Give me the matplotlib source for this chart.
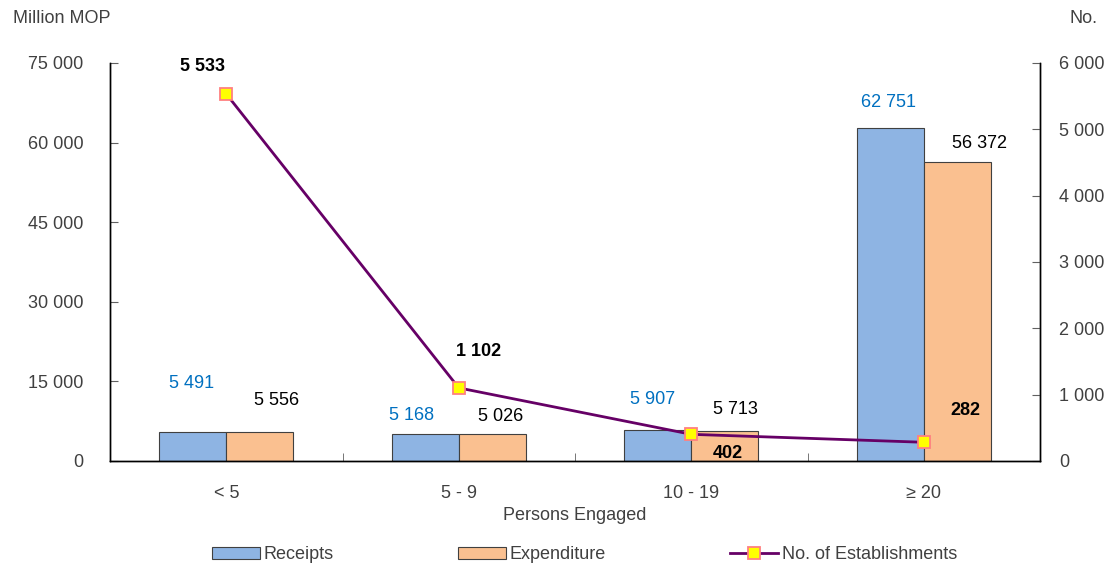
import matplotlib
matplotlib.use("Agg")
import matplotlib.pyplot as plt
from matplotlib import font_manager
import numpy as np

categories = ["< 5", "5 - 9", "10 - 19", "≥ 20"]
receipts = [5491, 5168, 5907, 62751]
expenditure = [5556, 5026, 5713, 56372]
establishments = [5533, 1102, 402, 282]

names = {f.name for f in font_manager.fontManager.ttflist}
fam = "Liberation Sans Narrow" if "Liberation Sans Narrow" in names else "Liberation Sans"
plt.rcParams['font.family'] = [fam, 'DejaVu Sans']

def fmt(v):
    return f"{v:,}".replace(",", " ")

fig = plt.figure(figsize=(11.09, 5.68), dpi=100)
ax = fig.add_axes([0.0992, 0.1884, 0.8386, 0.7007])
ax2 = ax.twinx()

x = np.arange(len(categories))
w = 0.288
b1 = ax.bar(x - w/2, receipts, w, color="#8EB4E3", edgecolor="#404040", linewidth=0.8, label="Receipts", zorder=2)
b2 = ax.bar(x + w/2, expenditure, w, color="#FAC090", edgecolor="#404040", linewidth=0.8, label="Expenditure", zorder=2)
ln, = ax2.plot(x, establishments, color="#660066", linewidth=2, marker="s", markersize=9,
               markerfacecolor="#FFFF00", markeredgecolor="#FF8080", markeredgewidth=1.3,
               label="No. of Establishments", zorder=3)

ax.set_xlim(-0.5, 3.5)
ax.set_ylim(0, 75000)
ax2.set_ylim(0, 6000)
ax.set_yticks(np.arange(0, 75001, 15000))
ax2.set_yticks(np.arange(0, 6001, 1000))
ax.set_yticklabels([fmt(v) for v in np.arange(0, 75001, 15000)])
ax2.set_yticklabels([fmt(v) for v in np.arange(0, 6001, 1000)])
ax.set_xticks(x)
ax.set_xticklabels(categories)
ax.set_xticks(np.arange(-0.5, 3.6, 1), minor=True)

fs = 13
tc = "#404040"
ax.tick_params(axis="x", which="major", length=0, labelsize=fs, labelcolor=tc, pad=17)
ax.tick_params(axis="x", which="minor", length=6, direction="in", color="#606060")
ax.tick_params(axis="y", direction="in", length=6, labelsize=fs, labelcolor=tc, pad=19, color="#606060")
ax2.tick_params(axis="y", direction="in", length=6, labelsize=fs, labelcolor=tc, pad=14, color="#606060")

for a in (ax, ax2):
    a.spines["top"].set_visible(False)
    for s in ("left", "right", "bottom"):
        a.spines[s].set_color("black")
        a.spines[s].set_linewidth(1)

ax.set_xlabel("Persons Engaged", fontsize=fs, color=tc, labelpad=4)
fig.text(0.012, 0.968, "Million MOP", fontsize=fs, color=tc, ha="left", va="center")
fig.text(0.99, 0.968, "No.", fontsize=fs, color=tc, ha="right", va="center")

# label offsets in points (dx, dy) relative to bar top centre / marker
rec_off = [(-1, 35), (-10, 13), (-4, 22), (-1, 18)]
exp_off = [(12, 22), (6, 13), (8, 15), (16, 13)]
est_off = [(-17, 20), (14, 26), (26, -14), (30, 23)]

for i, v in enumerate(receipts):
    ax.annotate(fmt(v), (x[i] - w/2, v), xytext=rec_off[i], textcoords="offset points",
                ha="center", va="center", fontsize=fs, color="#0070C0")
for i, v in enumerate(expenditure):
    ax.annotate(fmt(v), (x[i] + w/2, v), xytext=exp_off[i], textcoords="offset points",
                ha="center", va="center", fontsize=fs, color="black")
for i, v in enumerate(establishments):
    ax2.annotate(fmt(v), (x[i], v), xytext=est_off[i], textcoords="offset points",
                 ha="center", va="center", fontsize=fs, color="black", fontweight="bold")

leg = fig.legend([b1, b2, ln], ["Receipts", "Expenditure", "No. of Establishments"],
                 loc="center", bbox_to_anchor=(0.527, 0.023), ncol=3, frameon=False,
                 fontsize=fs, columnspacing=6.9, handlelength=2.65, handletextpad=0.2,
                 labelcolor=tc)

fig.savefig("out.png", dpi=100)
